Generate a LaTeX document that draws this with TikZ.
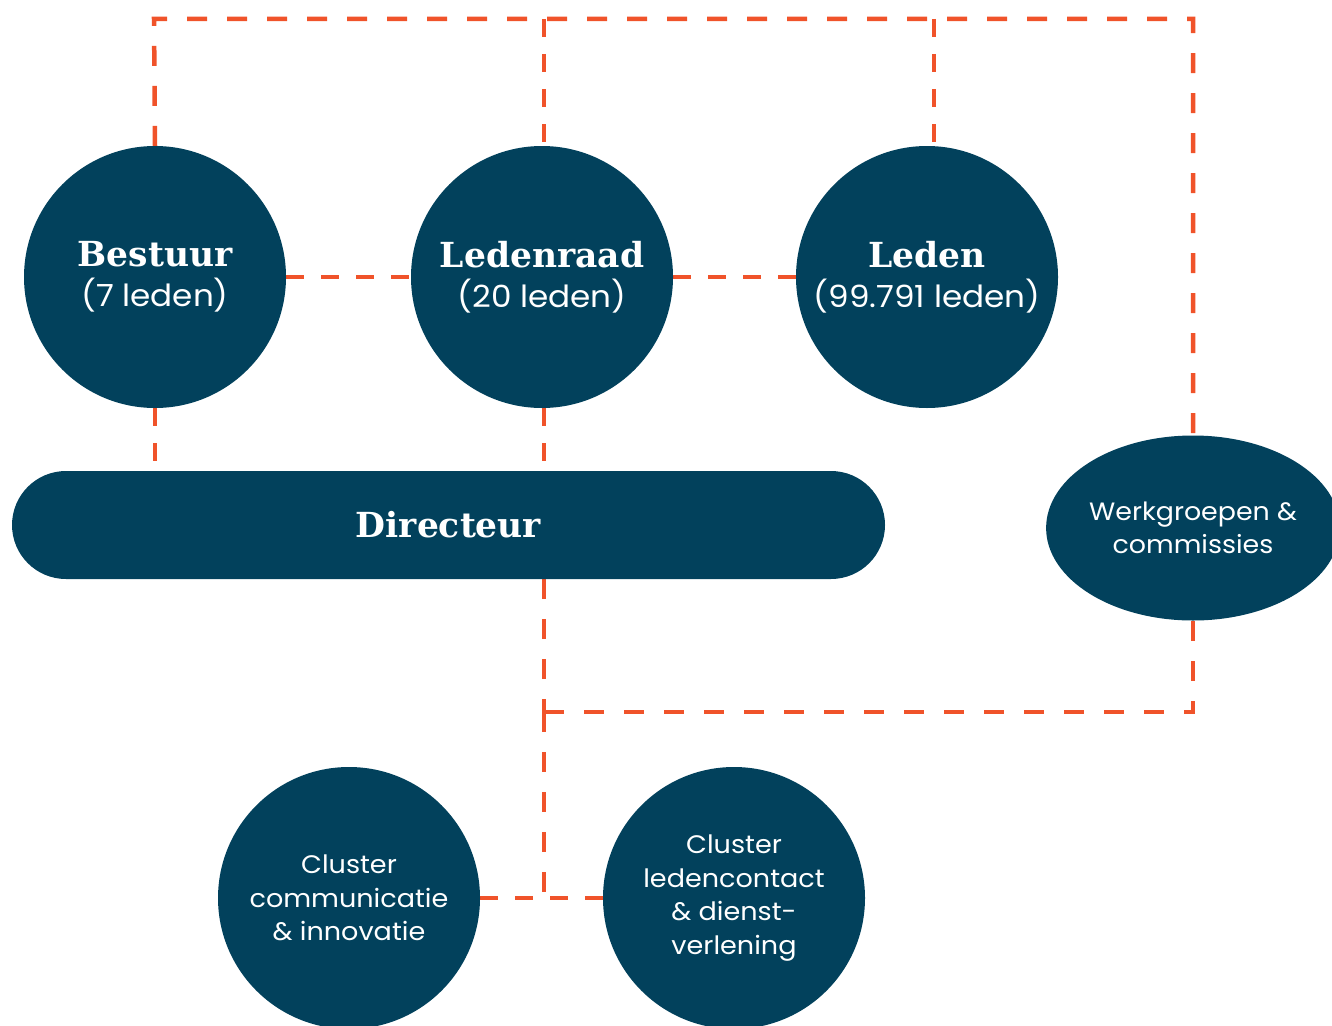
\documentclass[tikz,border=0pt]{standalone}
\usepackage{fontspec}
\setmainfont{Poppins}[FakeStretch=1.07]
\newfontfamily\slab{DejaVu Serif}
\usetikzlibrary{shapes.geometric,backgrounds}
\definecolor{navy}{HTML}{02415C}
\definecolor{orng}{HTML}{F0532A}
\newcommand\headtxt[1]{{\slab\bfseries\fontsize{34.5}{40}\selectfont #1}}
\begin{document}
\begin{tikzpicture}[x=1pt,y=-1pt,
  blob/.style={circle,fill=navy,text=white,minimum size=262pt,inner sep=0pt,align=center},
  bigblob/.style={blob,font=\fontsize{30.5}{40}\selectfont},
  smallblob/.style={blob,font=\fontsize{25.3}{33.5}\selectfont},
  conn/.style={draw=orng,line width=4.5pt,dash pattern=on 18pt off 17pt},
  connlong/.style={draw=orng,line width=4.5pt,dash pattern=on 20pt off 20pt}]
\useasboundingbox (0,0) rectangle (1332,1025);
\node[bigblob] (bestuur) at (155,277) {\headtxt{Bestuur}\\(7 leden)};
\node[bigblob] (ledenraad) at (542,277) {\headtxt{Ledenraad}\\(20 leden)};
\node[bigblob] (leden) at (927,277) {\headtxt{Leden}\\(99.791 leden)};
\node[rectangle,fill=navy,text=white,rounded corners=54pt,minimum width=873pt,minimum height=108pt,inner sep=0pt] (dir) at (448.5,525) {\headtxt{Directeur}};
\node[ellipse,fill=navy,text=white,minimum width=286pt,minimum height=185pt,inner sep=0pt,align=center,font=\fontsize{25.1}{33}\selectfont] (werk) at (1193,528) {Werkgroepen \&\\commissies};
\node[smallblob] (comm) at (349,898) {Cluster\\communicatie\\\& innovatie};
\node[smallblob] (ledc) at (734,898) {Cluster\\ledencontact\\\& dienst-\\verlening};
\coordinate (tl) at (154,19);
\coordinate (tm) at (544,19);
\coordinate (tr) at (934,19);
\coordinate (trr) at (1193,19);
\coordinate (jn) at (544,712);
\coordinate (jr) at (1193,712);
\coordinate (jb) at (544,898);
\begin{scope}[on background layer]
\draw[connlong] (bestuur.north) -- (tl) -- (trr) -- (werk.north);
\draw[conn] (tm) -- (tm |- ledenraad.north);
\draw[conn] (tr) -- (tr |- leden.north);
\draw[conn] (bestuur.east) -- (ledenraad.west);
\draw[conn] (ledenraad.east) -- (leden.west);
\draw[conn] (bestuur.south) -- (bestuur.south |- dir.north);
\draw[conn] (tm |- ledenraad.south) -- (tm |- dir.north);
\draw[connlong] (tm |- dir.south) -- (jn);
\draw[connlong] (jn) -- (jr) -- (werk.south);
\draw[connlong] (jn) -- (jb);
\draw[conn] (comm.east) -- (ledc.west);
\end{scope}
\end{tikzpicture}
\end{document}
